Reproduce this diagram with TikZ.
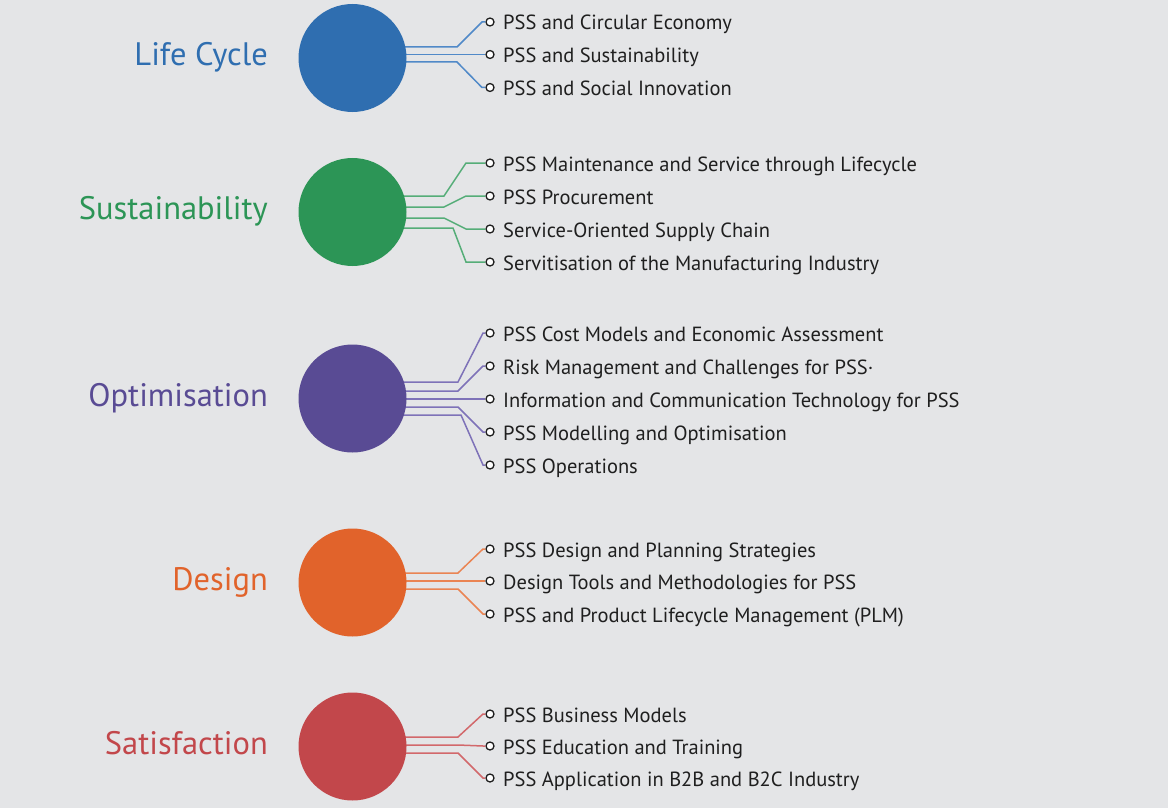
\documentclass[tikz,border=0pt]{standalone}
\usepackage{fontspec}
\setmainfont{PT Sans}
\definecolor{bgc}{HTML}{E4E5E7}
\definecolor{txt}{HTML}{1F1F1F}
\definecolor{cblue}{HTML}{2F6EB0}
\definecolor{lblue}{HTML}{5089C8}
\definecolor{cgreen}{HTML}{2C9556}
\definecolor{lgreen}{HTML}{55AD78}
\definecolor{cpurple}{HTML}{594B94}
\definecolor{lpurple}{HTML}{7E72B8}
\definecolor{corange}{HTML}{E1632B}
\definecolor{lorange}{HTML}{EA8453}
\definecolor{cred}{HTML}{C2474B}
\definecolor{lred}{HTML}{D2686B}
\newcommand\branch[7]{%
  \coordinate (#1s) at (396,#2);
  \coordinate (#1a) at (#6,#2);
  \coordinate (#1b) at (#7,#3);
  \node[dotmark] (#1d) at (490,#3) {};
  \node[item] (#1t) at (503,#3+8) {#5};
  \draw[conn,#4] (#1s) -- (#1a) -- (#1b) -- (#1d);
}
\begin{document}
\begin{tikzpicture}[x=1bp,y=-1bp,
  hub/.style={circle,minimum size=108bp,inner sep=0pt},
  title/.style={anchor=base east,inner sep=0pt,font=\fontsize{32.5bp}{34bp}\selectfont},
  item/.style={anchor=base west,inner sep=0pt,text=txt,font=\fontsize{20.5bp}{22bp}\selectfont},
  dotmark/.style={circle,draw=txt,fill=white,line width=1.3bp,minimum size=8bp,inner sep=0pt},
  conn/.style={line width=1.5bp}]
\fill[bgc] (0,0) rectangle (1168,808);
\useasboundingbox (0,0) rectangle (1168,808);

% Life Cycle
\branch{lc1}{47}{22}{lblue}{PSS and Circular Economy}{457}{482}
\branch{lc2}{54.5}{54.5}{lblue}{PSS and Sustainability}{457}{482}
\branch{lc3}{62}{87.5}{lblue}{PSS and Social Innovation}{457}{482}
\node[hub,fill=cblue] (lc) at (352.5,58) {};
\node[title,text=cblue] (lcl) at (268,65.5) {Life Cycle};

% Sustainability
\branch{su1}{196}{163}{lgreen}{PSS Maintenance and Service through Lifecycle}{444}{466}
\branch{su2}{207}{196}{lgreen}{PSS Procurement}{444}{466}
\branch{su3}{218}{229}{lgreen}{Service-Oriented Supply Chain}{444}{466}
\branch{su4}{228}{262}{lgreen}{Servitisation of the Manufacturing Industry}{453}{466}
\node[hub,fill=cgreen] (su) at (352.5,212) {};
\node[title,text=cgreen] (sul) at (268,219.5) {Sustainability};

% Optimisation
\branch{op1}{382}{333}{lpurple}{PSS Cost Models and Economic Assessment}{458}{483}
\branch{op2}{391}{366}{lpurple}{Risk Management and Challenges for PSS·}{458}{483}
\branch{op3}{399}{399}{lpurple}{Information and Communication Technology for PSS}{458}{483}
\branch{op4}{407}{432}{lpurple}{PSS Modelling and Optimisation}{458}{483}
\branch{op5}{415}{465}{lpurple}{PSS Operations}{461}{483}
\node[hub,fill=cpurple] (op) at (352.5,398.5) {};
\node[title,text=cpurple] (opl) at (268,406) {Optimisation};

% Design
\branch{de1}{573}{549}{lorange}{PSS Design and Planning Strategies}{458}{483}
\branch{de2}{581}{581}{lorange}{Design Tools and Methodologies for PSS}{458}{483}
\branch{de3}{589}{614}{lorange}{PSS and Product Lifecycle Management (PLM)}{458}{483}
\node[hub,fill=corange] (de) at (352.5,582.5) {};
\node[title,text=corange] (del) at (268,590) {Design};

% Satisfaction
\branch{sa1}{737}{714}{lred}{PSS Business Models}{458}{483}
\branch{sa2}{745}{746}{lred}{PSS Education and Training}{458}{483}
\branch{sa3}{753}{778}{lred}{PSS Application in B2B and B2C Industry}{458}{483}
\node[hub,fill=cred] (sa) at (352.5,746.5) {};
\node[title,text=cred] (sal) at (268,754) {Satisfaction};
\end{tikzpicture}
\end{document}
